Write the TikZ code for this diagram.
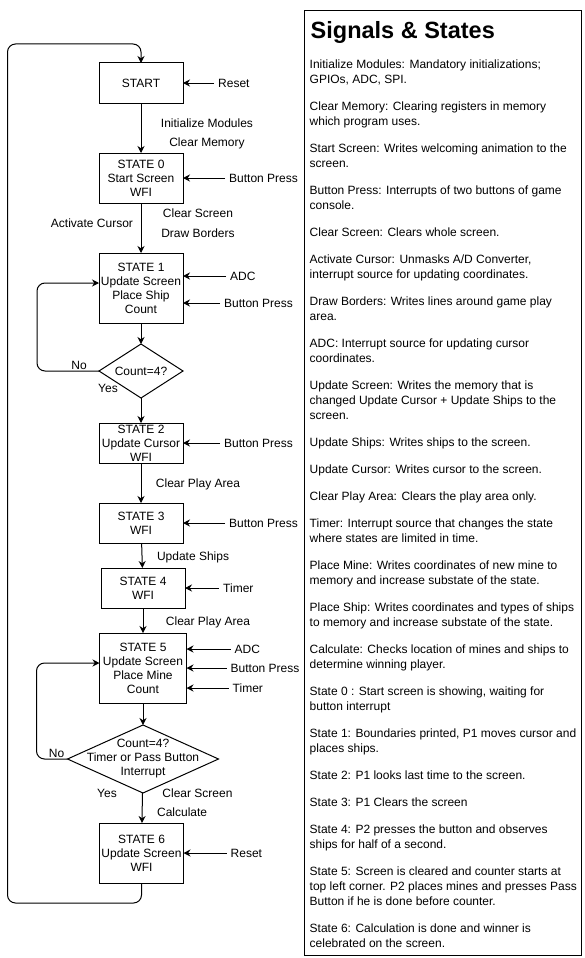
\documentclass[tikz,border=0pt]{standalone}
\usepackage{fontspec}
\setmainfont{Liberation Sans}
\usetikzlibrary{arrows.meta, positioning, shapes.geometric}

\tikzstyle{statebox} = [draw, line width=1pt, outer sep=0pt,
minimum width=84, minimum height=40, % most boxes are this size
inner xsep=1pt, inner ysep=0pt, align=center,
font=\fontsize{12}{14}\selectfont]
\tikzstyle{decision} = [diamond, draw, line width=1pt, inner sep=0pt, outer sep=0pt,
minimum width=84, minimum height=54]
\tikzstyle{lbl} = [inner sep=1pt, align=center, font=\fontsize{12}{14}\selectfont]
\tikzstyle{sig} = [inner xsep=4pt, inner ysep=1pt, font=\fontsize{12}{14}\selectfont]
\tikzstyle{flow} = [->, line width=1pt]

\begin{document}
\begin{tikzpicture}[
    x=1pt, y=-1pt, % picture is laid out in pixel units, y grows downwards
    >={Stealth[length=7pt,width=7pt]},
    node distance=25pt,
  ]
    \useasboundingbox (0,0) rectangle (584,958);

    \node[statebox]                                        (start)  at (141,83) {START};
    \node[statebox, below=50pt of start, minimum height=50] (st0)   {STATE 0\\Start Screen\\WFI};
    \node[statebox, below=50pt of st0, minimum height=70]   (st1)   {STATE 1\\Update Screen\\Place Ship\\Count};
    \node[decision, below=21pt of st1, label={[lbl]center:Count=4?}] (check1) {};
    \node[statebox, below=of check1]                        (st2)   {STATE 2\\Update Cursor\\WFI};
    \node[statebox, below=40pt of st2]                      (st3)   {STATE 3\\WFI};
    \node[statebox, below=of st3, xshift=2pt]               (st4)   {STATE 4\\WFI};
    \node[statebox, below=of st4, minimum width=87, minimum height=70] (st5) {STATE 5\\Update Screen\\Place Mine\\Count};
    \node[decision, below=22pt of st5, minimum width=151, minimum height=68,
          label={[lbl]center:Count=4?\\Timer or Pass Button\\Interrupt}] (check2) {};
    \node[statebox, below=30pt of check2, xshift=-1.5pt, minimum height=60] (st6) {STATE 6\\Update Screen\\WFI};

    % incoming signals
    \node[sig, right=31pt of start]              (reset0) {Reset};
    \node[sig, right=42pt of st0]                (press0) {Button Press};
    \node[sig, right=43pt of st1, yshift=12pt]   (adc1)   {ADC};
    \node[sig, right=37pt of st1, yshift=-15pt]  (press1) {Button Press};
    \node[sig, right=37pt of st2]                (press2) {Button Press};
    \node[sig, right=42pt of st3]                (press3) {Button Press};
    \node[sig, right=34pt of st4]                (timer4) {Timer};
    \node[sig, right=44pt of st5, yshift=19pt]   (adc5)   {ADC};
    \node[sig, right=40pt of st5]                (press5) {Button Press};
    \node[sig, right=42pt of st5, yshift=-20pt]  (timer5) {Timer};
    \node[sig, right=43pt of st6]                (reset6) {Reset};

    \foreach \s/\b in {reset0/start, press0/st0, adc1/st1, press1/st1, press2/st2,
                       press3/st3, timer4/st4, adc5/st5, press5/st5, timer5/st5, reset6/st6}
      \draw[flow] (\s) -- (\s -| \b.east);

    \draw [flow] (start) -- node[lbl, pos=0.4, xshift=66pt] (initmod) {Initialize Modules}
                            node[lbl, pos=0.8, xshift=66pt] (clrmem)  {Clear Memory} (st0);
    \draw [flow] (st0) -- node[lbl, pos=0.2, xshift=57pt]  (clrscr0) {Clear Screen}
                          node[lbl, pos=0.6, xshift=57pt]  (borders) {Draw Borders}
                          node[lbl, pos=0.4, xshift=-49pt] (actcur)  {Activate Cursor} (st1);
    \draw [flow] (st1) -- (check1);
    \draw [flow] (check1) -- (st2);
    \node[lbl] (yes1) at ([xshift=-33pt, yshift=10pt]check1.south) {Yes};
    \draw [flow, rounded corners=8pt] (check1.west) -- node[lbl, above, pos=0.32] (no1) {No}
          ++(-62,0) |- ([yshift=5pt]st1.west);

    \draw [flow] (st2) -- node[lbl, pos=0.525, xshift=57pt] (clrplay2) {Clear Play Area} (st3);
    \draw [flow] (st3) -- node[lbl, pos=0.56, xshift=51pt]  (updships) {Update Ships} (st4);
    \draw [flow] (st4) -- node[lbl, pos=0.56, xshift=65pt]  (clrplay4) {Clear Play Area} (st5);
    \draw [flow] (st5) -- (check2);
    \draw [flow] (check2) -- node[lbl, pos=0.03, xshift=55pt] (clrscr2) {Clear Screen}
                             node[lbl, pos=0.63, xshift=40pt] (calc)    {Calculate} (st6);
    \node[lbl] (yes2) at ([xshift=-36pt]check2.south) {Yes};
    \draw [flow, rounded corners=8pt] (check2.west) -- node[lbl, above, pos=0.35] (no2) {No}
          ++(-31,0) |- ([yshift=5pt]st5.west);

    % back to start after reset
    \draw [flow, rounded corners=8pt] (st6.south) |- ++(-134,20) |- ([yshift=19pt]start.north) -- (start.north);

    % legend panel
    \node[draw, line width=1pt, anchor=north west, inner sep=0pt,
          minimum width=277, minimum height=945] (panel) at (304,10) {};
    \node[anchor=base west, inner sep=0pt, font=\fontsize{23.5}{28}\selectfont\bfseries]
          (title) at (310.5,38) {Signals \& States};
    \node[anchor=north west, align=left, inner sep=0pt, font=\fontsize{12}{15}\selectfont]
          (legend) at (309.5,60) {%
      Initialize Modules: Mandatory initializations;\\
      GPIOs, ADC, SPI.\\[12pt]
      Clear Memory: Clearing registers in memory\\
      which program uses.\\[12pt]
      Start Screen: Writes welcoming animation to the\\
      screen.\\[12pt]
      Button Press: Interrupts of two buttons of game\\
      console.\\[12pt]
      Clear Screen: Clears whole screen.\\[12pt]
      Activate Cursor: Unmasks A/D Converter,\\
      interrupt source for updating coordinates.\\[12pt]
      Draw Borders: Writes lines around game play\\
      area.\\[12pt]
      ADC: Interrupt source for updating cursor\\
      coordinates.\\[12pt]
      Update Screen: Writes the memory that is\\
      changed Update Cursor + Update Ships to the\\
      screen.\\[12pt]
      Update Ships: Writes ships to the screen.\\[12pt]
      Update Cursor: Writes cursor to the screen.\\[12pt]
      Clear Play Area: Clears the play area only.\\[12pt]
      Timer: Interrupt source that changes the state\\
      where states are limited in time.\\[12pt]
      Place Mine: Writes coordinates of new mine to\\
      memory and increase substate of the state.\\[12pt]
      Place Ship: Writes coordinates and types of ships\\
      to memory and increase substate of the state.\\[12pt]
      Calculate: Checks location of mines and ships to\\
      determine winning player.\\[12pt]
      State 0 : Start screen is showing, waiting for\\
      button interrupt\\[12pt]
      State 1: Boundaries printed, P1 moves cursor and\\
      places ships.\\[12pt]
      State 2: P1 looks last time to the screen.\\[12pt]
      State 3: P1 Clears the screen\\[12pt]
      State 4: P2 presses the button and observes\\
      ships for half of a second.\\[12pt]
      State 5: Screen is cleared and counter starts at\\
      top left corner. P2 places mines and presses Pass\\
      Button if he is done before counter.\\[12pt]
      State 6: Calculation is done and winner is\\
      celebrated on the screen.};
  \end{tikzpicture}
\end{document}
